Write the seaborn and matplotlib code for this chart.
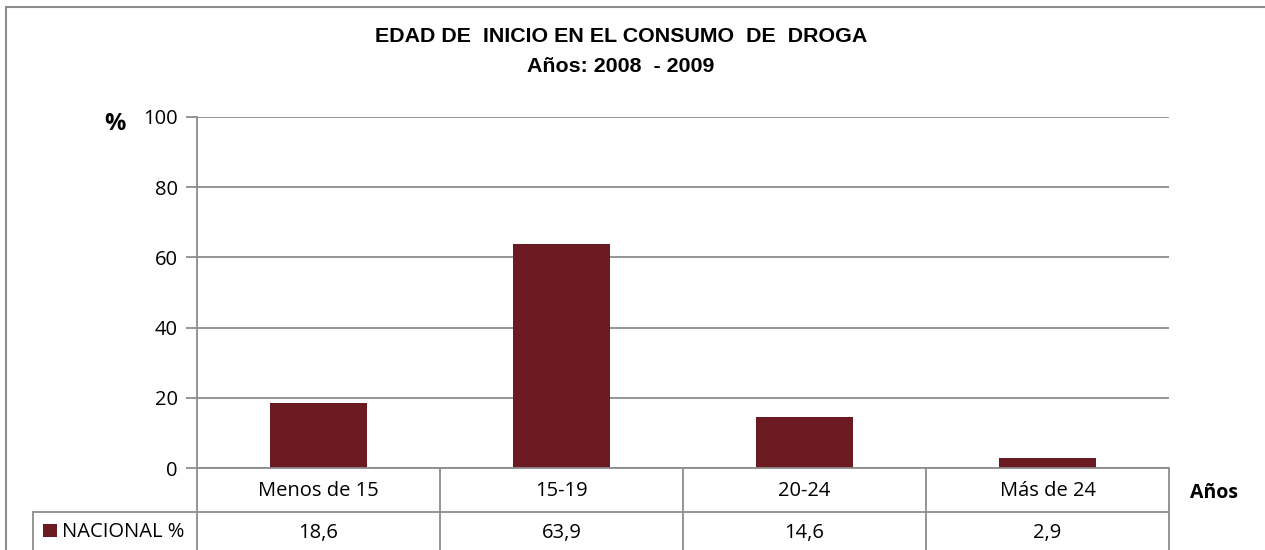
import matplotlib
matplotlib.use("Agg")
import matplotlib.pyplot as plt
import seaborn as sns
import pandas as pd
from matplotlib.lines import Line2D
from matplotlib.patches import Rectangle

# Data
categories = ["Menos de 15", "15-19", "20-24", "Más de 24"]
values = [18.6, 63.9, 14.6, 2.9]
value_labels = ["18,6", "63,9", "14,6", "2,9"]
series_name = "NACIONAL %"
title_lines = ["EDAD DE  INICIO EN EL CONSUMO  DE  DROGA", "Años: 2008  - 2009"]
y_ticks = [0, 20, 40, 60, 80, 100]

sns.set_theme(style="white")
plt.rcParams["font.family"] = ["Open Sans", "DejaVu Sans"]

BAR = "#6B1A22"
GRID = "#8C8C8C"
TXT = "#000000"
W, H = 1265, 550
FS = 14.5

fig = plt.figure(figsize=(12.65, 5.5), dpi=100)
fig.patch.set_facecolor("white")

# outer chart frame
fig.add_artist(Rectangle((6 / W, -0.05), 1.2, (550 - 7) / H + 0.05, transform=fig.transFigure,
                         fill=False, edgecolor="#8C8C8C", linewidth=1.5))

x0, x1 = 197, 1169
y_top, y_zero = 117, 468
ax = fig.add_axes([x0 / W, (H - y_zero) / H, (x1 - x0) / W, (y_zero - y_top) / H])

df = pd.DataFrame({"cat": categories, "val": values})
sns.barplot(data=df, x="cat", y="val", color=BAR, width=0.40, saturation=1,
            edgecolor="none", ax=ax)

ax.set_ylim(0, 100)
ax.set_xlim(-0.5, len(categories) - 0.5)
ax.set_yticks(y_ticks)
ax.set_yticklabels([str(t) for t in y_ticks], fontsize=FS, color=TXT)
ax.set_xticks([])
ax.set_xlabel("")
ax.set_ylabel("")
ax.yaxis.grid(True, color=GRID, linewidth=1.3)
ax.set_axisbelow(True)
ax.tick_params(axis="y", length=8, width=1.3, color=GRID, pad=6, left=True)
for s in ["top", "right", "bottom"]:
    ax.spines[s].set_visible(False)
ax.spines["left"].set_color(GRID)
ax.spines["left"].set_linewidth(1.3)


def fx(px):
    return px / W


def fy(py):
    return 1 - py / H


# title
for text, ypx in zip(title_lines, [37, 66]):
    fig.text(fx(621), fy(ypx), text, ha="center", va="center", color=TXT,
             fontsize=15.4, fontweight="bold", family=["Liberation Sans", "DejaVu Sans"])

# axis unit labels
fig.text(fx(115), fy(124), "%", ha="center", va="center", fontsize=17, fontweight="bold",
         color=TXT)
fig.text(fx(1214), fy(493), "Años", ha="center", va="center", fontsize=14,
         fontweight="bold", color=TXT)

# data table under the axis
row1_bot = 512
col_edges = [x0 + i * (x1 - x0) / len(categories) for i in range(len(categories) + 1)]


def hline(xa, xb, y):
    fig.add_artist(Line2D([fx(xa), fx(xb)], [fy(y), fy(y)], transform=fig.transFigure,
                          color=GRID, linewidth=1.3))


def vline(x, ya, yb):
    fig.add_artist(Line2D([fx(x), fx(x)], [fy(ya), fy(yb)], transform=fig.transFigure,
                          color=GRID, linewidth=1.3))


hline(x0, x1, y_zero)
hline(33, x1, row1_bot)
for cx in col_edges:
    vline(cx, y_zero, 560)
vline(33, row1_bot, 560)

for i, (cat, lab) in enumerate(zip(categories, value_labels)):
    cx = (col_edges[i] + col_edges[i + 1]) / 2
    fig.text(fx(cx), fy(491), cat, ha="center", va="center", fontsize=FS, color=TXT)
    fig.text(fx(cx), fy(533), lab, ha="center", va="center", fontsize=FS, color=TXT)

# legend key in the table
fig.add_artist(Rectangle((fx(43), fy(537)), 14 / W, 13 / H, transform=fig.transFigure,
                         facecolor=BAR, edgecolor="none"))
fig.text(fx(62), fy(532), series_name, ha="left", va="center", fontsize=FS, color=TXT)

fig.savefig("out.png", dpi=100)
